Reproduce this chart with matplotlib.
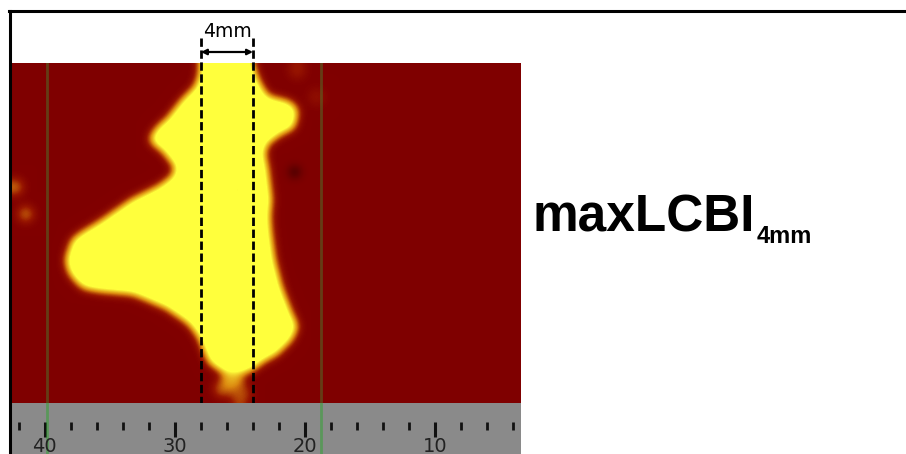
import numpy as np
import matplotlib.pyplot as plt
from matplotlib.path import Path
from matplotlib.colors import LinearSegmentedColormap, Normalize
from matplotlib.lines import Line2D

# ---- data ----
# outline of the lipid (yellow) region: position along pullback [mm], frame row
blob_x_mm = [28.0, 24.3, 23.7, 22.95, 21.15, 20.64, 20.9, 21.92, 22.95, 23.21,
             22.95, 22.69, 22.82, 22.69, 22.44, 21.92, 21.15, 20.64, 21.15, 22.18,
             23.21, 24.23, 25.77, 27.31, 28.08, 28.85, 30.64, 33.21, 35.77, 37.05,
             38.08, 38.33, 37.82, 37.05, 35.77, 33.21, 31.15, 30.13, 29.87, 30.9,
             31.92, 31.41, 30.38, 29.36, 28.33, 28.0]
blob_frame = [-6, -6, 17, 34, 40, 47, 64, 70, 80, 90,
              107, 137, 154, 174, 197, 224, 250, 264, 277, 290,
              297, 307, 312, 299, 274, 260, 244, 230, 227, 224,
              210, 197, 177, 170, 160, 137, 124, 114, 104, 87,
              77, 67, 54, 37, 24, 10]

# small isolated spots: position [mm], frame row, level, radius [px]
spot_x_mm = [42.3, 41.5, 25.2, 20.8, 20.6, 25.6, 25.0, 26.4, 19.1]
spot_frame = [124, 151, 127, 109, 7, 318, 331, 326, 34]
spot_level = [0.3, 0.3, 0.45, -0.9, 0.12, 0.45, 0.22, 0.3, 0.08]
spot_radius = [7, 7, 7, 4, 8, 11, 10, 7, 8]

green_marks_mm = [39.8, 18.8]      # green frame markers
window_mm = [28, 24]               # 4 mm window for maxLCBI
minor_ticks = [42, 38, 36, 34, 32, 28, 26, 24, 22, 18, 16, 14, 12, 8, 6, 4]
major_ticks = [40, 30, 20, 10]

x_left, x_right = 42.6, 3.4        # visible pullback range [mm]
n_frames = 340
mm_px = 13.0                       # pixels per mm in the image


# ---- build the image field ----
ncol = 510
xs = np.linspace(x_left, x_right, ncol)
ys = np.arange(n_frames) + 0.5
X, Y = np.meshgrid(xs, ys)

outline = Path(np.column_stack([blob_x_mm, blob_frame]))
field = outline.contains_points(np.column_stack([X.ravel(), Y.ravel()])).reshape(X.shape).astype(float)

for sx, sy, lev, r in zip(spot_x_mm, spot_frame, spot_level, spot_radius):
    disc = ((X - sx) * mm_px) ** 2 + (Y - sy) ** 2 < r ** 2
    field[disc] = lev


def smooth(a, sigma):
    k = np.exp(-0.5 * (np.arange(-3 * sigma, 3 * sigma + 1) / sigma) ** 2)
    k /= k.sum()
    pad = len(k) // 2
    a = np.pad(a, pad, mode='edge')
    a = np.apply_along_axis(lambda v: np.convolve(v, k, mode='same'), 0, a)
    a = np.apply_along_axis(lambda v: np.convolve(v, k, mode='same'), 1, a)
    return a[pad:-pad, pad:-pad]


field = smooth(field, 5)

vmin = -0.6
cmap = LinearSegmentedColormap.from_list('lcbi', [
    (0.0, '#2a0000'),
    ((0.0 - vmin) / (1 - vmin), '#800000'),
    ((0.1 - vmin) / (1 - vmin), '#981600'),
    ((0.33 - vmin) / (1 - vmin), '#dc8a10'),
    ((0.66 - vmin) / (1 - vmin), '#ffff3c'),
    (1.0, '#ffff3c')])

# ---- figure ----
fig = plt.figure(figsize=(9.06, 4.54), dpi=100)
W, H = 906.0, 454.0

ax = fig.add_axes([11 / W, 51 / H, 510 / W, 340 / H])
ax.imshow(field, cmap=cmap, norm=Normalize(vmin, 1), extent=[x_left, x_right, n_frames, 0],
          aspect='auto', interpolation='bilinear')
ax.set_xlim(x_left, x_right)
ax.set_ylim(n_frames, 0)
ax.axis('off')

# ruler below the image
rul = fig.add_axes([11 / W, 0, 510 / W, 51 / H], sharex=ax)
rul.set_facecolor('#8a8a8a')
rul.set_ylim(51, 0)
rul.set_xticks([])
rul.set_yticks([])
for s in rul.spines.values():
    s.set_visible(False)
rul.vlines(minor_ticks, 19, 27, color='#111111', lw=2)
rul.vlines(major_ticks, 19, 34, color='#111111', lw=2.2)
for t in major_ticks:
    rul.text(t, 43, str(t), ha='center', va='center', fontsize=14, color='#222222')

# green frame markers
for g in green_marks_mm:
    ax.axvline(g, color='#3aa03a', alpha=0.38, lw=2)
    rul.axvline(g, color='#3aa03a', alpha=0.6, lw=2)

# 4 mm window
for w in window_mm:
    ax.plot([w, w], [-25, n_frames], color='black', lw=2, dashes=(3, 1.3), clip_on=False)
ax.annotate('', xy=(window_mm[1], -11), xytext=(window_mm[0], -11),
            arrowprops=dict(arrowstyle='<|-|>', color='black', lw=1.6,
                            mutation_scale=8, shrinkA=0, shrinkB=0),
            annotation_clip=False)
ax.text(np.mean(window_mm), -26, '4mm', ha='center', va='baseline', fontsize=13.5)

# label
fig.text(533 / W, 1 - 232 / H, 'maxLCBI', fontsize=37, fontweight='bold',
         family='Liberation Sans', va='baseline', ha='left')
fig.text(757 / W, 1 - 243 / H, '4mm', fontsize=17, fontweight='bold',
         family='Liberation Sans', va='baseline', ha='left')

# frame border (top and left)
fig.add_artist(Line2D([8.5 / W, 1], [1 - 11 / H, 1 - 11 / H], color='black', lw=2.2,
                      transform=fig.transFigure))
fig.add_artist(Line2D([9.5 / W, 9.5 / W], [0, 1 - 11 / H], color='black', lw=2.2,
                      transform=fig.transFigure))

fig.savefig('out.png', dpi=100)
